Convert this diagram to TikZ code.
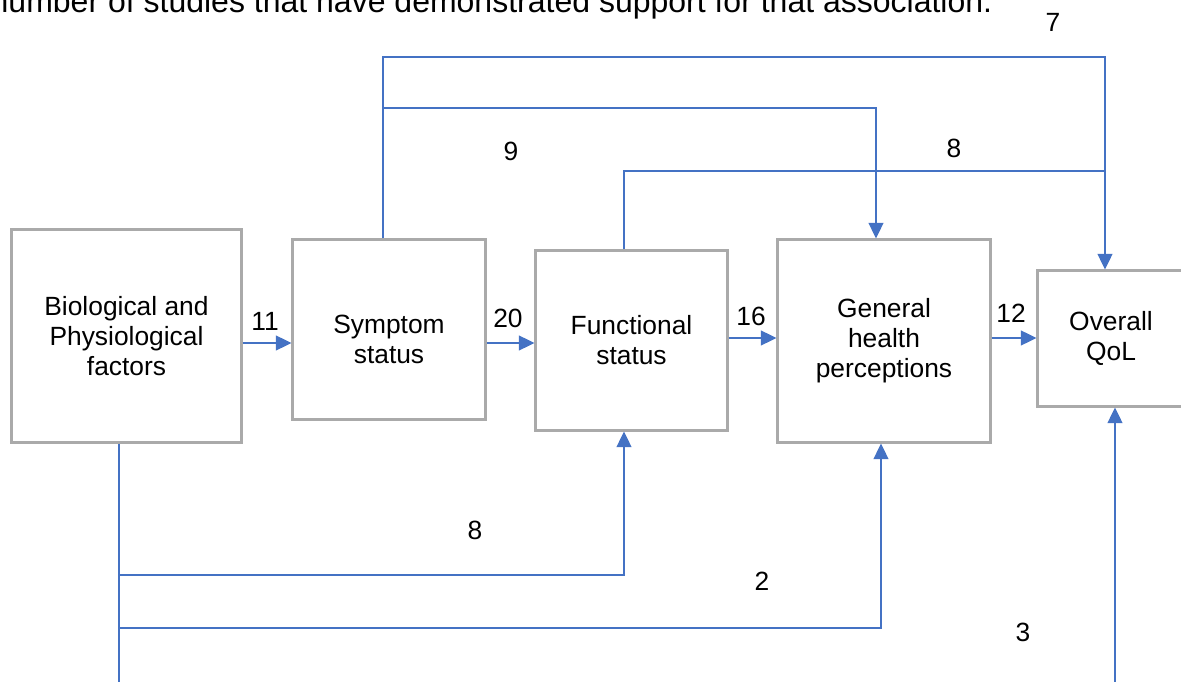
\documentclass[tikz,border=0pt]{standalone}
\usepackage{fontspec}
\setmainfont{Liberation Sans}
\usepackage{xcolor}
\usetikzlibrary{arrows.meta}
\definecolor{linkblue}{RGB}{68,114,196}
\definecolor{boxgray}{RGB}{170,170,170}

\begin{document}
\begin{tikzpicture}[
  x=0.01cm, y=-0.01cm,
  txt/.style={inner sep=0pt, align=center, font=\fontsize{7.5}{8.5}\selectfont},
  factor/.style={rectangle, draw=boxgray, line width=0.85pt, fill=white, txt},
  link/.style={draw=linkblue, line width=0.45pt},
  arrow/.style={link, -{Triangle[length=4.4pt,width=4.2pt]}}
]
  \useasboundingbox (0,0) rectangle (1181,682);

  \node[txt, anchor=base west, font=\fontsize{9.1}{10}\selectfont] (caption) at (-10,13) {number of studies that have demonstrated support for that association.};

  % boxes
  \node[factor, minimum width=2.29cm, minimum height=2.12cm] (bio) at (126.5,336) {Biological and\\Physiological\\factors};
  \node[factor, minimum width=1.92cm, minimum height=1.79cm,
        label={[txt, yshift=-0.1cm]center:Symptom\\status}] (symptom) at (389,329.5) {};
  \node[factor, minimum width=1.91cm, minimum height=1.79cm] (functional) at (631.5,340.5) {Functional\\status};
  \node[factor, minimum width=2.12cm, minimum height=2.02cm] (general) at (884,341) {General\\health\\perceptions};
  \node[factor, minimum width=1.46cm, minimum height=1.35cm] (overall) at (1111,338.5) {Overall\\QoL};

  % main chain
  \coordinate (rowa) at (0,343);
  \coordinate (rowb) at (0,338);
  \draw[arrow] (bio.east |- rowa) -- (symptom.west |- rowa);
  \draw[arrow] (symptom.east |- rowa) -- (functional.west |- rowa);
  \draw[arrow] (functional.east |- rowb) -- (general.west |- rowb);
  \draw[arrow] (general.east |- rowb) -- (overall.west |- rowb);

  % links above
  \coordinate (symjoin) at (383,57);
  \coordinate (qoljoin) at (1105,57);
  \coordinate (ghpjoin) at (876,108);
  \coordinate (fsjoin) at (624,171);
  \draw[arrow] (symptom.north -| symjoin) -- (symjoin) -- (qoljoin) -- (overall.north -| qoljoin);
  \draw[arrow] (symjoin |- ghpjoin) -- (ghpjoin) -- (general.north -| ghpjoin);
  \draw[link] (functional.north -| fsjoin) -- (fsjoin) -- (qoljoin |- fsjoin);

  % links below
  \coordinate (biojoin) at (119,720);
  \coordinate (fsfoot) at (624,575);
  \coordinate (ghpfoot) at (881,628);
  \coordinate (qolfoot) at (1115,720);
  \draw[link] (bio.south -| biojoin) -- (biojoin);
  \draw[arrow] (biojoin |- fsfoot) -- (fsfoot) -- (functional.south -| fsfoot);
  \draw[arrow] (biojoin |- ghpfoot) -- (ghpfoot) -- (general.south -| ghpfoot);
  \draw[arrow] (biojoin) -- (qolfoot) -- (overall.south -| qolfoot);

  % study counts
  \node[txt] (n11) at (265,321) {11};
  \node[txt] (n20) at (508,318) {20};
  \node[txt] (n16) at (751,316) {16};
  \node[txt] (n12) at (1011,313) {12};
  \node[txt] (n7) at (1053,22) {7};
  \node[txt] (n9) at (511,151) {9};
  \node[txt] (n8top) at (954,148) {8};
  \node[txt] (n8low) at (475,530) {8};
  \node[txt] (n2) at (762,581) {2};
  \node[txt] (n3) at (1023,632) {3};
\end{tikzpicture}
\end{document}
